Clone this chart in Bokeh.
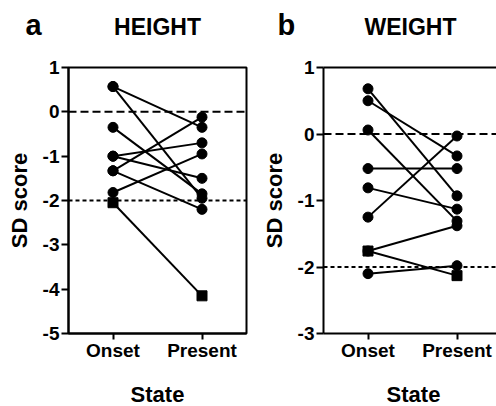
from bokeh.plotting import figure
from bokeh.layouts import row, column
from bokeh.models import Span, FixedTicker, Range1d, LinearAxis
from bokeh.core.properties import value
from bokeh.embed import file_html
from bokeh.resources import INLINE

# ---- data ----
states = ["Onset", "Present"]
panel_letters = ["a", "b"]
panel_titles = ["HEIGHT", "WEIGHT"]
x_label = "State"
y_label = "SD score"

height_onset = [0.57, 0.57, -0.35, -1.0, -1.0, -1.33, -1.33, -1.82, -2.05]
height_present = [-0.35, -1.95, -1.85, -0.7, -1.5, -0.12, -2.2, -0.95, -4.15]
height_marker = ["circle"] * 8 + ["square"]

weight_onset = [0.68, 0.50, 0.06, -0.52, -0.81, -1.25, -1.76, -1.76, -2.10]
weight_present = [-0.93, -0.33, -1.31, -0.52, -1.13, -0.03, -1.38, -2.13, -1.98]
weight_marker = ["circle"] * 7 + ["square", "circle"]

height_ticks = [-5, -4, -3, -2, -1, 0, 1]
weight_ticks = [-3, -2, -1, 0, 1]

FONT = "Liberation Sans"
HEADER_H = 50
FOOTER_H = 30
PANEL_H = 406 - HEADER_H - FOOTER_H


def text_strip(h):
    f = figure(width=496, height=h, output_backend="svg", toolbar_location=None,
               x_range=Range1d(0, 496), y_range=Range1d(h, 0),
               x_axis_location=None, y_axis_location=None, min_border=0)
    f.grid.visible = False
    f.outline_line_color = None
    return f


# ---- header with panel letters and titles ----
hdr = text_strip(HEADER_H)
hdr.text(x=[25, 277], y=[24, 24], text=panel_letters, text_font=value(FONT),
         text_font_size=value("29px"), text_font_style="bold", text_color="black",
         text_baseline="alphabetic", text_align="left")
hdr.text(x=[157, 410], y=[26, 26], text=panel_titles, text_font=value(FONT),
         text_font_size=value("23px"), text_font_style="bold", text_color="black",
         text_baseline="alphabetic", text_align="center")

# ---- footer with x-axis titles ----
ftr = text_strip(FOOTER_H)
ftr.text(x=[157, 413], y=[18, 18], text=[x_label, x_label], text_font=value(FONT),
         text_font_size=value("22px"), text_font_style="bold", text_color="black",
         text_baseline="alphabetic", text_align="center")


def make_panel(onset, present, markers, yr, yticks, width, xr, border_right, outline):
    p = figure(width=width, height=PANEL_H, output_backend="svg",
               toolbar_location=None, x_range=Range1d(*xr), y_range=Range1d(*yr),
               min_border_left=68, min_border_right=border_right,
               min_border_top=17, min_border_bottom=43)
    p.grid.visible = False
    p.background_fill_color = "white"
    p.border_fill_color = "white"
    if outline:
        p.outline_line_color = "black"
        p.outline_line_width = 2
        p.outline_line_alpha = 1
    else:
        p.outline_line_color = None
        top = LinearAxis(ticker=FixedTicker(ticks=[]), major_label_text_font_size="0px",
                         axis_line_width=2, axis_line_color="black",
                         major_tick_line_color=None, minor_tick_line_color=None)
        p.add_layout(top, "above")

    xax = p.below[0]
    yax = p.left[0]
    xpos = list(range(len(states)))
    xax.ticker = FixedTicker(ticks=xpos)
    xax.major_label_overrides = {i: s for i, s in zip(xpos, states)}
    yax.ticker = FixedTicker(ticks=yticks)
    yax.major_label_overrides = {t: str(t) for t in yticks}
    for ax in [xax, yax]:
        ax.axis_line_width = 2
        ax.axis_line_color = "black"
        ax.major_tick_line_width = 2
        ax.major_tick_line_color = "black"
        ax.major_tick_in = 0
        ax.major_tick_out = 7
        ax.minor_tick_line_color = None
        ax.major_label_text_font = FONT
        ax.major_label_text_font_size = "19px"
        ax.major_label_text_font_style = "bold"
        ax.major_label_text_color = "black"
        ax.axis_label_text_font = FONT
        ax.axis_label_text_font_size = "22px"
        ax.axis_label_text_font_style = "bold"
        ax.axis_label_text_color = "black"
    xax.major_tick_out = 6
    xax.major_label_standoff = 0
    yax.axis_label = y_label
    yax.major_label_standoff = 2
    yax.axis_label_standoff = 8

    p.add_layout(Span(location=0, dimension="width", line_color="black",
                      line_width=2, line_dash="8 4"))
    p.add_layout(Span(location=-2, dimension="width", line_color="black",
                      line_width=2, line_dash="4 3"))

    n = len(onset)
    p.segment(x0=[xpos[0]] * n, y0=onset, x1=[xpos[1]] * n, y1=present,
              line_color="black", line_width=2)
    p.scatter(x=[xpos[0]] * n, y=onset, marker=markers, size=10,
              fill_color="black", line_color="black")
    p.scatter(x=[xpos[1]] * n, y=present, marker=markers, size=10,
              fill_color="black", line_color="black")
    return p


pa = make_panel(height_onset, height_present, height_marker,
                (-5, 1), height_ticks, 255, (-0.5, 1.5), 9, True)
pb = make_panel(weight_onset, weight_present, weight_marker,
                (-3, 1), weight_ticks, 241, (-0.5, -0.5 + 173 / 89), 0, False)

layout = column(hdr, row(pa, pb), ftr)
open("out.html", "w").write(file_html(layout, INLINE))
